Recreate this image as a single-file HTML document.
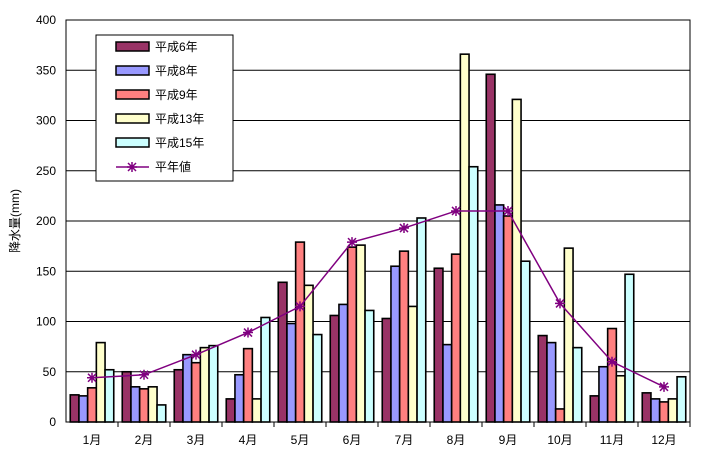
<!DOCTYPE html>
<html><head><meta charset="utf-8"><style>
body{margin:0;background:#fff;}
svg text{font-family:"Liberation Sans","Noto Sans CJK JP",sans-serif;font-size:12px;fill:#000;}
</style></head><body>
<svg id="c" width="702" height="458"></svg>
<script>
const months=["1月","2月","3月","4月","5月","6月","7月","8月","9月","10月","11月","12月"];
const seriesNames=["平成6年","平成8年","平成9年","平成13年","平成15年"];
const h6=[27,50,52,23,139,106,103,153,346,86,26,29];
const h8=[26,35,67,47,98,117,155,77,216,79,55,23];
const h9=[34,33,59,73,179,174,170,167,205,13,93,20];
const h13=[79,35,74,23,136,176,115,366,321,173,46,23];
const h15=[52,17,76,104,87,111,203,254,160,74,147,45];
const normal=[44,47,67,89,115,179,193,210,210,118,60,35];
const yTicks=[0,50,100,150,200,250,300,350,400];
const colors=["#993366","#9999ff","#ff8080","#ffffcc","#ccffff"];
const series=[h6,h8,h9,h13,h15];
const L=66,R=690,T=20,B=422;
const cw=(R-L)/months.length;
const y=v=>B-(v/400)*(B-T);
const xc=i=>L+cw*(i+0.5);
const svg=document.getElementById('c');
const NS="http://www.w3.org/2000/svg";
function mk(t,a){const e=document.createElementNS(NS,t);for(const k in a)e.setAttribute(k,a[k]);svg.appendChild(e);return e;}
yTicks.forEach(v=>{
 const g=mk('line',{x1:L,x2:R,y1:y(v),y2:y(v),stroke:'#000','stroke-width':1});
 
 
 const t=mk('text',{x:L-10,y:y(v)+4,'text-anchor':'end'});t.textContent=v;
 
 
});
const fr=mk('rect',{x:L,y:T,width:R-L,height:B-T,fill:'none',stroke:'#000','stroke-width':1});


const bw=8.7;
months.forEach((m,i)=>{
 series.forEach((s,j)=>{
  const x0=xc(i)-bw*2.5+j*bw;
  const r=mk('rect',{x:x0,y:y(s[i]),width:bw,height:B-y(s[i]),fill:colors[j],stroke:'#000','stroke-width':1.6});
  
  
 });
 const tk=mk('line',{x1:L+cw*(i+1),x2:L+cw*(i+1),y1:B,y2:B+5,stroke:'#000'});
 
 
 const t=mk('text',{x:xc(i),y:444,'text-anchor':'middle'});t.textContent=m;
 
 
});
const pl=mk('polyline',{points:normal.map((v,i)=>xc(i)+','+y(v)).join(' '),fill:'none',stroke:'#800080','stroke-width':1.5});


function star(cx,cy,nm){
 const p=mk('path',{d:`M${cx-5},${cy}h10M${cx},${cy-5}v10M${cx-4},${cy-4}l8,8M${cx-4},${cy+4}l8,-8`,stroke:'#800080','stroke-width':1.5});
 
 
}
normal.forEach((v,i)=>star(xc(i),y(v),'normal-point-'+months[i]));
const yt=mk('text',{transform:'translate(19,221) rotate(-90)','text-anchor':'middle'});yt.textContent='降水量(mm)';


const lg=mk('rect',{x:96,y:35,width:137,height:146,fill:'#fff',stroke:'#000','stroke-width':1});


seriesNames.forEach((n,j)=>{
 const yy=47+j*24;
 const r=mk('rect',{x:116,y:yy-5,width:33,height:9,fill:colors[j],stroke:'#000','stroke-width':1.5});
 
 
 const t=mk('text',{x:155,y:yy+4});t.textContent=n;
 
 
});
const ly=167;
const ll=mk('line',{x1:116,x2:149,y1:ly,y2:ly,stroke:'#800080','stroke-width':1.5});


star(132,ly,'legend-marker');
const lt=mk('text',{x:155,y:ly+4});lt.textContent='平年値';


</script>
</body></html>
